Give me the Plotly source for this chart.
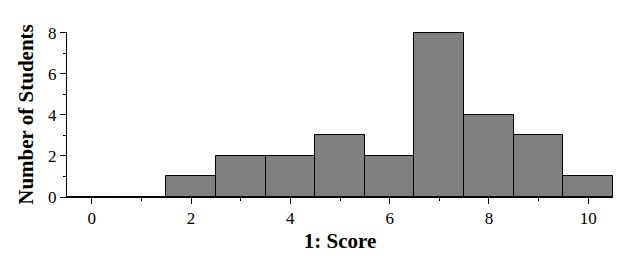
import plotly.graph_objects as go

scores = [0, 1, 2, 3, 4, 5, 6, 7, 8, 9, 10]
counts = [0, 0, 1, 2, 2, 3, 2, 8, 4, 3, 1]
x_ticks = [0, 2, 4, 6, 8, 10]
y_ticks = [0, 2, 4, 6, 8]

fig = go.Figure(
    go.Bar(
        x=scores,
        y=counts,
        width=1,
        marker=dict(color="#808080", line=dict(color="black", width=1)),
        hoverinfo="x+y",
    )
)

font_family = "Liberation Serif"

fig.update_layout(
    width=628,
    height=260,
    margin=dict(l=67, r=15, t=32, b=63),
    plot_bgcolor="white",
    paper_bgcolor="white",
    showlegend=False,
    font=dict(family=font_family, color="black", size=17),
    bargap=0,
)

fig.update_xaxes(
    range=[-0.5, 10.5],
    tickvals=x_ticks,
    ticktext=[str(v) for v in x_ticks],
    ticks="outside",
    ticklen=6,
    tickwidth=1,
    tickcolor="black",
    showline=True,
    linecolor="black",
    linewidth=1,
    showgrid=False,
    zeroline=False,
    minor=dict(ticks="outside", ticklen=3, dtick=1, tick0=1, tickcolor="black", showgrid=False),
    tickfont=dict(size=17, family=font_family),
    title=dict(text="<b>1: Score</b>", font=dict(size=21, family=font_family), standoff=5),
)

fig.update_yaxes(
    range=[0, 8.04],
    tickvals=y_ticks,
    ticktext=[str(v) for v in y_ticks],
    ticks="outside",
    ticklen=6,
    tickwidth=1,
    tickcolor="black",
    showline=True,
    linecolor="black",
    linewidth=1,
    showgrid=False,
    zeroline=False,
    minor=dict(ticks="outside", ticklen=3, dtick=1, tick0=1, tickcolor="black", showgrid=False),
    tickfont=dict(size=17, family=font_family),
    title=dict(text="<b>Number of Students</b>", font=dict(size=21, family=font_family), standoff=8),
)

fig.write_html("out.html")
